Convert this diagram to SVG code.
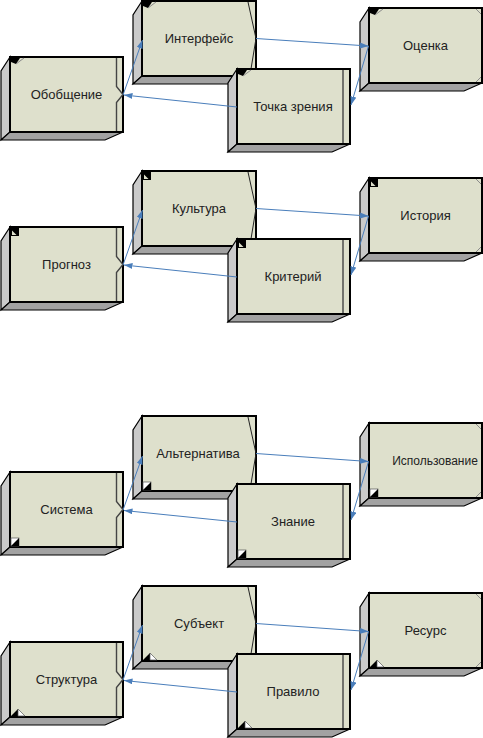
<svg xmlns="http://www.w3.org/2000/svg" width="483" height="738" viewBox="0 0 483 738">
<style>
.bg{fill:#fff}
.front{fill:#DEE0CC;stroke:#000;stroke-width:2}
.side{fill:#CACACA;stroke:#000;stroke-width:1.2;stroke-linejoin:miter}
.bottom{fill:#A2A2A2;stroke:#000;stroke-width:1.2}
.inner{fill:none;stroke:#444;stroke-width:1.4}
.thin{fill:none;stroke:#222;stroke-width:1}
.corner{fill:none;stroke:#8A8A8A;stroke-width:1}
.blk{fill:#000}
.lite{fill:#DEE0CC}
.wht{fill:#fff;stroke:#555;stroke-width:0.7}
.lbl{font-family:"Liberation Sans",Arial,sans-serif;font-size:13px;fill:#222;text-anchor:middle}
.conn{fill:none;stroke:#4A7EBB;stroke-width:1;marker-end:url(#ah)}
</style>
<defs>
<marker id="ah" markerUnits="userSpaceOnUse" markerWidth="9" markerHeight="7" refX="8.5" refY="3" orient="auto">
<path d="M0,0 L8.5,3 L0,6 z" fill="#4A7EBB"/>
</marker>
<g id="box113">
<polygon class="side" points="0,0 -9,14 -9,83 0,75"/>
<polygon class="bottom" points="0,75 113,75 95,83 -9,83"/>
<rect class="front" x="0" y="0" width="113" height="75"/>
</g>
<g id="box114">
<polygon class="side" points="0,0 -9,14 -9,83 0,75"/>
<polygon class="bottom" points="0,75 114,75 96,83 -9,83"/>
<rect class="front" x="0" y="0" width="114" height="75"/>
</g>
<g id="decoA"><polyline class="inner" points="106.5,1 106.5,29.5 113,37.5 106.5,45.5 106.5,74"/></g>
<g id="decoB"><polyline class="thin" points="106,1 114,37.5 108,74"/></g>
<g id="decoC"><line class="inner" x1="106" y1="1" x2="106" y2="74"/></g>
<g id="decoD"><line class="corner" x1="107" y1="1" x2="112" y2="6"/><line class="corner" x1="107" y1="74" x2="112" y2="69"/></g>
<g id="ic1"><polygon class="blk" points="1,1 10,1 6,7 1,5"/><line class="corner" x1="6" y1="7" x2="14" y2="1"/></g>
<g id="ic2"><rect class="blk" x="1" y="1" width="8" height="8"/><polygon class="lite" points="2,3.5 2,8 6.5,8"/></g>
<g id="ic3"><rect class="wht" x="1" y="66" width="8" height="8"/><polygon class="blk" points="9,66 9,74 1,74"/></g>
<g id="ic4"><polygon class="blk" points="1,74 8,67 8,74"/><polygon class="wht" points="8,67 15,74 8,74"/></g>
</defs>
<rect class="bg" x="0" y="0" width="483" height="738"/>

<!-- Group 1 -->
<g id="node-obobshchenie" transform="translate(10,57)"><use href="#box113"/><use href="#decoA"/><use href="#ic1"/><text class="lbl" x="56.5" y="42">Обобщение</text></g>
<g id="node-interfeis" transform="translate(142,1)"><use href="#box114"/><use href="#decoB"/><use href="#ic1"/><text class="lbl" x="57" y="42">Интерфейс</text></g>
<g id="node-ocenka" transform="translate(369,8)"><use href="#box113"/><use href="#decoD"/><use href="#ic1"/><text class="lbl" x="56.5" y="42">Оценка</text></g>
<g id="node-tochka-zreniya" transform="translate(237,69)"><use href="#box113"/><use href="#decoC"/><use href="#ic1"/><text class="lbl" x="56" y="42">Точка зрения</text></g>

<!-- Group 2 -->
<g id="node-prognoz" transform="translate(10,227)"><use href="#box113"/><use href="#decoA"/><use href="#ic2"/><text class="lbl" x="56.5" y="42">Прогноз</text></g>
<g id="node-kultura" transform="translate(142,171)"><use href="#box114"/><use href="#decoB"/><use href="#ic2"/><text class="lbl" x="57" y="42">Культура</text></g>
<g id="node-istoriya" transform="translate(369,178)"><use href="#box113"/><use href="#decoD"/><use href="#ic2"/><text class="lbl" x="56.5" y="42">История</text></g>
<g id="node-kriteriy" transform="translate(237,239)"><use href="#box113"/><use href="#decoC"/><use href="#ic2"/><text class="lbl" x="56" y="42">Критерий</text></g>

<!-- Group 3 -->
<g id="node-sistema" transform="translate(10,472)"><use href="#box113"/><use href="#decoA"/><use href="#ic3"/><text class="lbl" x="56.5" y="42">Система</text></g>
<g id="node-alternativa" transform="translate(142,416)"><use href="#box114"/><use href="#decoB"/><use href="#ic3"/><text class="lbl" x="56" y="42">Альтернатива</text></g>
<g id="node-ispolzovanie" transform="translate(369,423)"><use href="#box113"/><use href="#decoD"/><use href="#ic3"/><text class="lbl" x="66" y="42" style="font-size:12px">Использование</text></g>
<g id="node-znanie" transform="translate(237,484)"><use href="#box113"/><use href="#decoC"/><use href="#ic3"/><text class="lbl" x="56" y="42">Знание</text></g>

<!-- Group 4 -->
<g id="node-struktura" transform="translate(10,642)"><use href="#box113"/><use href="#decoA"/><use href="#ic4"/><text class="lbl" x="56.5" y="42">Структура</text></g>
<g id="node-subekt" transform="translate(142,586)"><use href="#box114"/><use href="#decoB"/><use href="#ic4"/><text class="lbl" x="57" y="42">Субъект</text></g>
<g id="node-resurs" transform="translate(369,593)"><use href="#box113"/><use href="#decoD"/><use href="#ic4"/><text class="lbl" x="56.5" y="42">Ресурс</text></g>
<g id="node-pravilo" transform="translate(237,654)"><use href="#box113"/><use href="#decoC"/><use href="#ic4"/><text class="lbl" x="56" y="42">Правило</text></g>

<g id="connectors">
<path class="conn" d="M123,95 L142.5,40"/>
<path class="conn" d="M256,38.5 L368.5,46"/>
<path class="conn" d="M368.5,46 L351,105"/>
<path class="conn" d="M237,107 L124,95"/>

<path class="conn" d="M123,265 L142.5,210"/>
<path class="conn" d="M256,208.5 L368.5,216"/>
<path class="conn" d="M368.5,216 L351,275"/>
<path class="conn" d="M237,277 L124,265"/>

<path class="conn" d="M123,510 L142.5,456"/>
<path class="conn" d="M256,453.5 L368.5,461.5"/>
<path class="conn" d="M368.5,461.5 L351,520"/>
<path class="conn" d="M237,522 L124,510.5"/>

<path class="conn" d="M123,680 L142.5,625"/>
<path class="conn" d="M256,623.5 L368.5,631.5"/>
<path class="conn" d="M368.5,631.5 L351,690"/>
<path class="conn" d="M237,692 L124,680.5"/>
</g>
</svg>
